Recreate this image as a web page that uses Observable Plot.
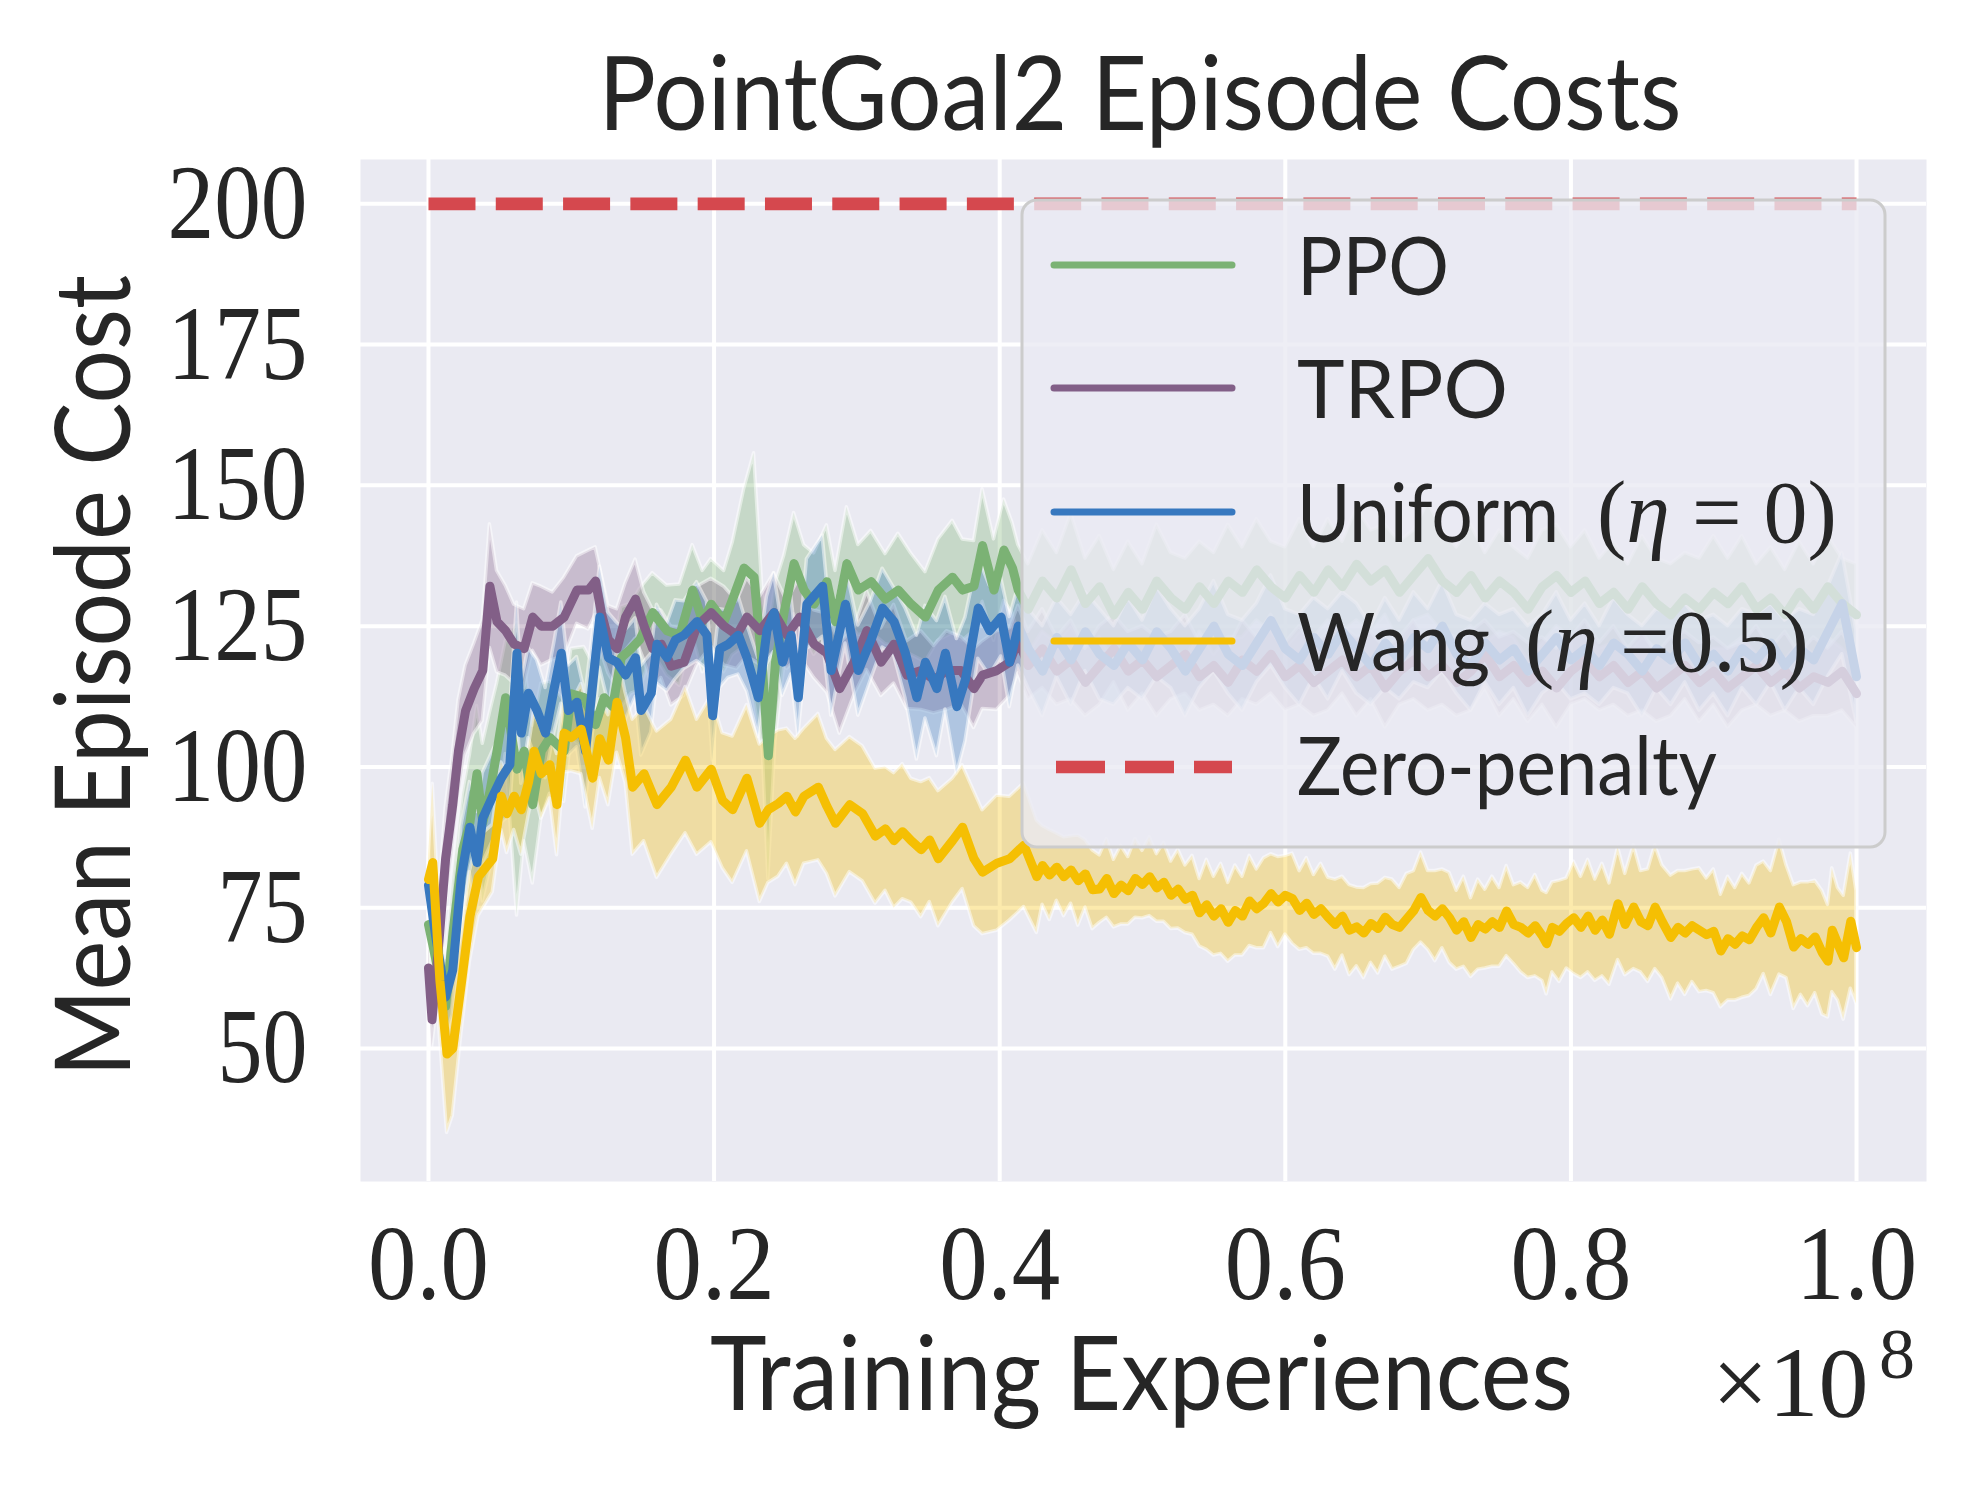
<!DOCTYPE html>
<html><head><meta charset="utf-8">
<script src="https://cdn.jsdelivr.net/npm/d3@7"></script>
<script src="https://cdn.jsdelivr.net/npm/@observablehq/plot@0.6"></script>
<style>
html,body{margin:0;padding:0;background:#fff;}
svg{display:block;}
</style></head><body><div id="chart"></div>
<script>
// ---------- data ----------
const titleText = "PointGoal2 Episode Costs";
const xLabelText = "Training Experiences";
const yLabelText = "Mean Episode Cost";
const seriesNames = ["PPO", "TRPO", "Uniform", "Wang", "Zero-penalty"];
const seriesColors = ["#7bb274", "#825f87", "#3778bf", "#f5bf03", "#d5484e"];
const xTicks = [0, 0.2, 0.4, 0.6, 0.8, 1.0];
const yTicks = [50, 75, 100, 125, 150, 175, 200];
const zeroPenalty = [[0, 200], [1.0, 200]];

// rows: [training experiences (x1e8), mean cost, spread]
const ppo = [
[0,72,5],[0.005,66,6],[0.012,57.5,8],[0.017,70.2,10],[0.024,85.3,10],[0.029,90.1,12],[0.034,98.8,12],[0.038,90.1,14],[0.043,95.6,14],[0.048,102.8,12],
[0.054,112.3,10],[0.062,99.6,26],[0.067,102.8,16],[0.073,93.3,14],[0.079,102.8,12],[0.085,105.2,10],[0.095,102.8,9],[0.1,113,8],[0.109,112.3,9],[0.117,107.5,10],
[0.123,112.3,9],[0.129,110.7,8],[0.135,119.4,9],[0.142,121,8],[0.148,122.6,9],[0.157,127.4,7],[0.167,124.2,8],[0.176,123.4,9],[0.185,131.4,8],[0.192,125.8,9],
[0.198,128.9,8],[0.207,125.8,9],[0.213,129.8,10],[0.221,135.3,14],[0.228,133.7,22],[0.234,117,14],[0.238,102,22],[0.243,118.6,14],[0.249,127.4,10],[0.256,136.1,9],
[0.263,131.4,8],[0.27,128.9,9],[0.279,132.9,10],[0.285,125.8,9],[0.293,136.1,10],[0.301,131.4,8],[0.31,132.9,9],[0.32,129.8,8],[0.329,131.4,10],[0.338,128.9,9],
[0.348,126.6,8],[0.357,131.4,9],[0.367,133.7,10],[0.374,131.4,9],[0.382,132.1,8],[0.388,139.3,10],[0.396,131.4,9],[0.403,138.5,9],[0.409,135.3,8],[0.413,131.4,8],
[0.42,128,8],[0.43,133,9],[0.44,130,8],[0.45,135,10],[0.46,129,8],[0.47,132,9],[0.48,127,8],[0.49,131,9],[0.5,128,8],[0.51,133,10],
[0.52,130,8],[0.53,128,9],[0.54,132,8],[0.55,129,9],[0.56,133,10],[0.57,131,8],[0.58,135,9],[0.59,132,8],[0.6,130,9],[0.61,134,10],
[0.62,131,8],[0.63,135,9],[0.64,132,8],[0.65,136,10],[0.66,133,9],[0.67,135,8],[0.68,131,9],[0.69,134,8],[0.7,137,10],[0.71,133,9],
[0.72,131,8],[0.73,134,9],[0.74,130,8],[0.75,133,9],[0.76,131,8],[0.77,128,9],[0.78,132,10],[0.79,134,9],[0.8,131,8],[0.81,133,9],
[0.82,129,8],[0.83,131,9],[0.84,128,8],[0.85,132,9],[0.86,129,8],[0.87,127,9],[0.88,130,8],[0.89,128,9],[0.9,131,10],[0.91,129,8],
[0.92,132,9],[0.93,128,8],[0.94,130,9],[0.95,127,8],[0.96,131,9],[0.97,128,8],[0.98,132,9],[0.99,129,8],[1.0,127,9]
];
const trpo = [
[0,64.3,4],[0.0025,55.1,5],[0.007,67.8,8],[0.012,83.7,9],[0.017,93.3,9],[0.021,102.8,9],[0.026,110,8],[0.032,113.9,8],[0.038,117.1,9],[0.043,132.1,11],
[0.048,125.8,9],[0.054,124.2,8],[0.06,121.8,7],[0.067,121,7],[0.073,126.6,6],[0.079,125,7],[0.087,125,6],[0.095,126.6,7],[0.104,131.4,6],[0.112,131.4,7],
[0.117,133,6],[0.121,127.4,7],[0.126,122.6,6],[0.132,121,7],[0.138,126.6,6],[0.145,129.8,7],[0.151,125,6],[0.157,121,7],[0.163,121.8,6],[0.17,117.9,7],
[0.179,118.6,6],[0.188,125,7],[0.198,127.4,6],[0.207,125,7],[0.216,123.4,6],[0.223,126.6,7],[0.232,124.2,6],[0.242,127.4,7],[0.251,123.4,6],[0.26,126.6,7],
[0.27,121.8,6],[0.279,120.2,7],[0.288,113.9,8],[0.298,118.6,6],[0.307,124.2,7],[0.317,118.6,6],[0.326,121.8,7],[0.335,116.3,6],[0.345,117.1,7],[0.354,115.5,6],
[0.363,117.1,7],[0.373,117.1,6],[0.382,113.9,7],[0.388,116.3,6],[0.398,117.1,7],[0.407,118.6,6],[0.413,122.6,6],
[0.42,118,6],[0.43,121,7],[0.44,117,6],[0.45,119,7],[0.46,115,6],[0.47,118,7],[0.48,121,6],[0.49,117,7],[0.5,119,6],[0.51,116,7],
[0.52,118,6],[0.53,120,7],[0.54,116,6],[0.55,118,7],[0.56,115,6],[0.57,119,7],[0.58,117,6],[0.59,120,7],[0.6,116,6],[0.61,118,7],
[0.62,115,6],[0.63,117,7],[0.64,119,6],[0.65,116,7],[0.66,118,6],[0.67,114,7],[0.68,117,6],[0.69,119,7],[0.7,116,6],[0.71,118,7],
[0.72,115,6],[0.73,117,7],[0.74,120,6],[0.75,116,7],[0.76,118,6],[0.77,115,7],[0.78,117,6],[0.79,114,7],[0.8,117,6],[0.81,119,7],
[0.82,116,6],[0.83,118,7],[0.84,115,6],[0.85,117,7],[0.86,114,6],[0.87,116,7],[0.88,118,6],[0.89,115,7],[0.9,117,6],[0.91,114,7],
[0.92,116,6],[0.93,118,7],[0.94,115,6],[0.95,117,7],[0.96,114,6],[0.97,116,7],[0.98,115,6],[0.99,117,7],[1.0,113,6]
];
const uniform = [
[0,79,5],[0.005,70,7],[0.012,59.1,7],[0.017,63.9,8],[0.023,80.5,9],[0.029,89.3,8],[0.034,83,9],[0.038,90.9,8],[0.045,94.8,8],[0.051,98,8],
[0.057,100.4,9],[0.062,120.2,9],[0.065,106,9],[0.07,113.1,8],[0.076,110,9],[0.082,106,8],[0.088,113.9,8],[0.093,120.2,9],[0.098,110,8],[0.104,111.5,8],
[0.11,102.8,10],[0.115,114.7,9],[0.12,126.6,9],[0.126,119.4,8],[0.132,118.6,7],[0.138,116.3,8],[0.145,119.4,7],[0.149,110,8],[0.156,113.1,7],[0.16,121.8,7],
[0.167,119.4,6],[0.173,122.6,7],[0.179,123.4,6],[0.188,125.8,7],[0.195,123.4,6],[0.199,109.1,8],[0.204,121,7],[0.21,121.8,6],[0.217,123.4,7],[0.223,119.4,6],
[0.231,112.3,7],[0.237,124.2,6],[0.242,127.4,7],[0.248,118.6,6],[0.254,123.4,7],[0.259,112.3,7],[0.265,128.9,8],[0.276,132.1,9],[0.282,117.1,8],[0.292,128.9,7],
[0.301,117.1,8],[0.31,122.6,7],[0.318,128.2,7],[0.326,125.8,6],[0.334,120.2,8],[0.342,112.3,11],[0.348,118.6,10],[0.356,113.9,12],[0.362,120.2,10],[0.37,110.7,12],
[0.376,115.5,11],[0.385,128.2,9],[0.393,124.2,8],[0.401,126.6,7],[0.407,118.6,8],[0.413,125,7],
[0.42,121,7],[0.43,117,8],[0.44,123,7],[0.45,119,8],[0.46,124,7],[0.47,120,8],[0.48,118,7],[0.49,122,8],[0.5,119,7],[0.51,124,8],
[0.52,121,7],[0.53,117,8],[0.54,121,7],[0.55,125,8],[0.56,120,7],[0.57,118,8],[0.58,122,7],[0.59,126,8],[0.6,121,7],[0.61,119,8],
[0.62,123,7],[0.63,120,8],[0.64,124,7],[0.65,121,8],[0.66,118,7],[0.67,122,8],[0.68,119,7],[0.69,123,8],[0.7,121,7],[0.71,125,8],
[0.72,120,7],[0.73,118,8],[0.74,122,7],[0.75,119,8],[0.76,121,7],[0.77,117,8],[0.78,120,7],[0.79,123,8],[0.8,119,7],[0.81,121,8],
[0.82,118,7],[0.83,122,8],[0.84,120,7],[0.85,117,8],[0.86,121,7],[0.87,119,8],[0.88,122,7],[0.89,118,8],[0.9,120,7],[0.91,117,8],
[0.92,121,7],[0.93,119,8],[0.94,122,7],[0.95,118,8],[0.96,121,7],[0.97,119,8],[0.98,124,8],[0.99,129,9],[1.0,116,8]
];
const wang = [
[0,80,4],[0.003,83,14],[0.008,62,10],[0.013,49,14],[0.017,50,12],[0.023,61.5,9],[0.029,73.4,8],[0.035,80.5,7],[0.045,83.7,6],[0.051,94.8,6],
[0.055,91.7,7],[0.06,94.8,6],[0.065,92.4,8],[0.07,97.2,6],[0.074,102.8,7],[0.079,98.8,8],[0.085,100.4,6],[0.09,93.3,9],[0.095,106,7],[0.1,105.2,6],
[0.107,106.7,8],[0.115,98,9],[0.12,105,7],[0.126,101.2,8],[0.132,111.5,9],[0.138,105.2,8],[0.143,96.4,12],[0.151,98.8,12],[0.16,93.3,13],[0.17,96.4,12],
[0.18,101.2,13],[0.188,96.4,12],[0.198,99.6,13],[0.206,94,12],[0.213,92.4,13],[0.223,98,13],[0.232,90,14],[0.238,92.4,13],[0.245,93.5,13],[0.251,94.8,12],
[0.257,92,13],[0.263,94.8,12],[0.273,96.4,13],[0.279,93,12],[0.285,90,13],[0.295,93.3,12],[0.304,91.7,12],[0.313,87.7,12],[0.32,89,11],[0.326,86.9,12],
[0.332,88.5,12],[0.338,86.9,11],[0.345,85.3,12],[0.351,87,11],[0.357,83.7,12],[0.367,86.9,11],[0.374,89.3,11],[0.382,83.7,12],[0.388,81.3,11],[0.398,82.9,12],
[0.407,83.7,11],[0.417,86.1,11],[0.426,80.5,10],
[0.43,82.5,7],[0.435,80.8,8],[0.44,82.2,6],[0.445,80.5,7],[0.45,81.7,6],[0.455,79.8,8],[0.46,81,6],[0.465,78.2,7],[0.47,78.3,6],[0.475,80.2,7],
[0.48,77.5,6],[0.485,79,7],[0.49,78,6],[0.495,80.2,7],[0.5,79.1,6],[0.505,80.5,7],[0.51,78.5,6],[0.515,79.5,7],[0.52,77.2,6],[0.525,78.3,7],
[0.53,76.5,6],[0.535,77.2,7],[0.54,74.1,6],[0.545,75.5,8],[0.55,73.5,7],[0.555,74.8,8],[0.56,72.4,7],[0.565,74.5,8],[0.57,73.5,7],[0.575,76.2,8],
[0.58,74.8,7],[0.585,75.8,8],[0.59,77.5,7],[0.595,76,8],[0.6,77.2,7],[0.605,76.6,8],[0.61,74.5,7],[0.615,75.8,8],[0.62,73.8,7],[0.625,74.8,8],
[0.63,73.3,7],[0.635,72,8],[0.64,73.5,7],[0.645,71,8],[0.65,71.6,7],[0.655,70.5,8],[0.66,72.2,7],[0.665,71.3,8],[0.67,73.3,7],[0.675,72,8],
[0.68,71.5,7],[0.685,73,8],[0.69,74.5,7],[0.695,76.8,8],[0.7,74.5,7],[0.705,73.5,8],[0.71,74.8,7],[0.715,73.2,8],[0.72,71,7],[0.725,72.5,8],
[0.73,69.7,7],[0.735,72,8],[0.74,71.2,7],[0.745,72.5,8],[0.75,71.5,7],[0.755,74.4,8],[0.76,72,7],[0.765,71.5,8],[0.77,70.5,8],[0.775,71.8,9],
[0.78,70,8],[0.783,68.6,9],[0.787,71.5,8],[0.792,70.8,9],[0.797,72.2,8],[0.802,73.2,10],[0.807,71.5,9],[0.812,73.5,10],[0.817,71,9],[0.822,72.8,10],
[0.827,70.3,9],[0.833,75.7,10],[0.838,72,9],[0.844,75.1,11],[0.849,72.5,9],[0.854,71.8,10],[0.859,75.1,11],[0.864,72.5,10],[0.87,69.7,11],[0.875,71.5,10],
[0.88,70.5,11],[0.885,71.8,10],[0.89,71,11],[0.895,70.2,10],[0.9,70.8,11],[0.905,67.3,10],[0.91,69.5,11],[0.915,68.5,10],[0.92,70,11],[0.925,69.3,10],
[0.93,71.5,11],[0.935,73.2,10],[0.94,70.5,11],[0.946,75.1,12],[0.951,72.5,10],[0.956,68,11],[0.961,69.5,10],[0.966,68.5,11],[0.971,69.8,10],[0.976,67,11],
[0.98,65.5,10],[0.983,71,11],[0.987,68.5,10],[0.991,66.1,11],[0.996,72.6,12],[1.0,67.9,10]
];

// ---------- build ----------
const seriesData = [ppo, trpo, uniform, wang].map(arr =>
  arr.map(([x, m, s]) => ({x, m, lo: m - s, hi: m + s})));

const W = 1984, H = 1488;
const mL = 360, mR = W - 1926, mT = 159, mB = H - 1181;
const textColor = "#262626";
const serif = "'Liberation Serif', 'Times New Roman', serif";
const sans = "Lato, 'Open Sans', sans-serif";

const marks = [
  Plot.frame({fill: "#eaeaf2", stroke: "none"}),
  Plot.gridX(xTicks, {stroke: "white", strokeOpacity: 1, strokeWidth: 4}),
  Plot.gridY(yTicks, {stroke: "white", strokeOpacity: 1, strokeWidth: 4}),
  Plot.axisX(xTicks, {tickSize: 0, tickPadding: 42, fontSize: 106, fontFamily: serif, label: null, tickFormat: d => d.toFixed(1)}),
  Plot.axisY(yTicks, {tickSize: 0, tickPadding: 53, fontSize: 106, fontFamily: serif, label: null, tickFormat: d => String(d)})
];
seriesData.forEach((rows, i) => {
  marks.push(Plot.areaY(rows, {x: "x", y1: "lo", y2: "hi", fill: seriesColors[i], fillOpacity: 0.33,
    stroke: "white", strokeOpacity: 0.5, strokeWidth: 3.5, strokeLinejoin: "round"}));
});
seriesData.forEach((rows, i) => {
  marks.push(Plot.lineY(rows, {x: "x", y: "m", stroke: seriesColors[i], strokeWidth: 9,
    strokeLinejoin: "round", strokeLinecap: "round"}));
});
marks.push(Plot.line(zeroPenalty, {x: d => d[0], y: d => d[1], stroke: seriesColors[4], strokeWidth: 12.7,
  strokeDasharray: "47,20.3", strokeLinecap: "butt"}));

const chart = Plot.plot({
  width: W, height: H,
  marginLeft: mL, marginRight: mR, marginTop: mT, marginBottom: mB,
  x: {domain: [-0.0476, 1.049]},
  y: {domain: [26.37, 207.87]},
  style: {background: "white", color: textColor, fontFamily: serif},
  marks
});
document.getElementById("chart").appendChild(chart);

const svg = d3.select(chart);
svg.selectAll('g[aria-label="y-axis tick label"] text').each(function () {
  const t = this.textContent;
  d3.select(this).attr("textLength", t.length >= 3 ? 140 : 90).attr("lengthAdjust", "spacingAndGlyphs");
});
svg.selectAll('g[aria-label="x-axis tick label"] text').each(function () {
  d3.select(this).attr("textLength", 121).attr("lengthAdjust", "spacingAndGlyphs");
});

function addText(g, o) {
  const t = g.append("text")
    .attr("x", o.x).attr("y", o.y)
    .attr("font-family", o.family || sans)
    .attr("font-size", o.size)
    .attr("fill", textColor)
    .attr("text-anchor", o.anchor || "start")
    .text(o.text);
  if (o.len) t.attr("textLength", o.len).attr("lengthAdjust", "spacingAndGlyphs");
  if (o.transform) t.attr("transform", o.transform);
  return t;
}
const ann = svg.append("g");
addText(ann, {x: 1140, y: 130, size: 103, anchor: "middle", text: titleText, len: 1083});
addText(ann, {x: 1141.5, y: 1410, size: 102, anchor: "middle", text: xLabelText, len: 863});
addText(ann, {x: 0, y: 0, size: 104, anchor: "middle", text: yLabelText, len: 802, transform: "translate(130,676) rotate(-90)"});
// ×10^8 offset text: one text element, superscript as a positioned tspan
const off = ann.append("text").attr("font-family", serif).attr("fill", textColor).attr("font-size", 100)
  .attr("text-anchor", "start");
off.append("tspan").attr("x", 1712).attr("y", 1416).text("×10");
off.append("tspan").attr("x", 1879).attr("y", 1378).attr("font-size", 72).text("8");

// legend
const leg = svg.append("g");
leg.append("rect").attr("x", 1022).attr("y", 200).attr("width", 863).attr("height", 647).attr("rx", 15)
  .attr("fill", "#eaeaf2").attr("fill-opacity", 0.8).attr("stroke", "#cccccc").attr("stroke-width", 3);
const handleY = [265, 388, 512, 641, 767];
const baseY = [295, 418, 542, 671, 795];
const sansLen = [152, 211, 262, 193, 420];
// math suffixes of the legend labels: [start x, before η, η, after η]
const mathSuffix = [null, null, [1597, "(", "η", " = 0)"], [1525, "(", "η", " =0.5)"], null];
handleY.forEach((hy, i) => {
  const l = leg.append("line").attr("x1", 1054).attr("x2", 1232).attr("y1", hy).attr("y2", hy)
    .attr("stroke", seriesColors[i]);
  if (i === 4) l.attr("stroke-width", 12.7).attr("stroke-dasharray", "49,20").attr("x1", 1056);
  else l.attr("stroke-width", 7).attr("stroke-linecap", "round");
  addText(leg, {x: 1297, y: baseY[i], size: 82, text: seriesNames[i], len: sansLen[i]});
  if (mathSuffix[i]) {
    const [mx, a, eta, b] = mathSuffix[i];
    const t = leg.append("text").attr("x", mx).attr("y", baseY[i]).attr("fill", textColor)
      .attr("text-anchor", "start").attr("font-family", serif).attr("font-size", 88);
    t.append("tspan").text(a);
    t.append("tspan").attr("font-style", "italic").text(eta);
    t.append("tspan").text(b);
  }
});
</script>
</body></html>
